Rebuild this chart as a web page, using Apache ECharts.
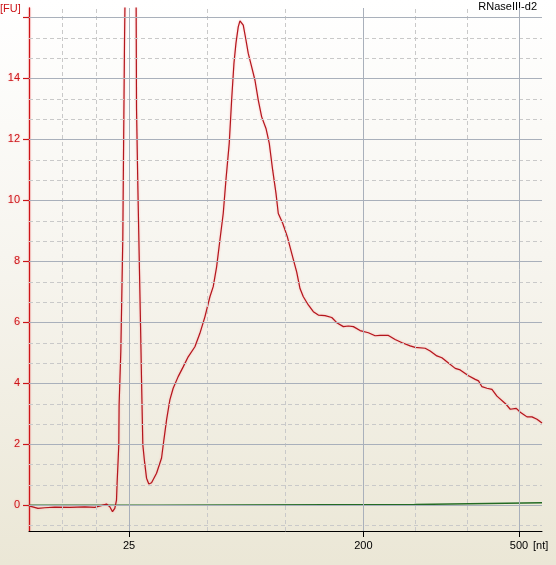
<!DOCTYPE html>
<html>
<head>
<meta charset="utf-8">
<script src="https://cdn.jsdelivr.net/npm/echarts@6/dist/echarts.min.js"></script>
<style>
html,body{margin:0;padding:0;}
#chart{width:556px;height:565px;}
</style>
</head>
<body>
<div id="chart"></div>
<script>
// x values: migration position (arbitrary time units); y values: fluorescence [FU]
const sampleTime = [30.0,30.9,31.57,32.57,34.07,35.57,36.57,37.74,38.07,38.34,38.57,38.74,38.8,38.97,39.0,39.17,39.27,39.37,39.44,39.54,39.6,40.15,40.7,40.74,40.87,41.0,41.14,41.24,41.37,41.54,41.74,41.97,42.24,42.74,43.24,43.47,43.74,44.07,44.4,44.9,45.4,45.9,46.57,47.07,47.57,48.07,48.4,48.74,49.07,49.4,49.67,50.0,50.24,50.47,50.67,50.9,51.07,51.4,51.67,51.9,52.24,52.57,52.9,53.24,53.67,54.0,54.34,54.67,54.9,55.34,55.8,56.24,56.74,57.07,57.4,57.9,58.4,58.9,59.57,60.24,60.74,61.4,61.9,62.4,63.07,63.9,64.57,65.07,65.9,66.57,67.27,68.07,68.57,69.57,70.07,70.74,71.24,71.74,72.57,73.07,73.9,74.57,74.9,75.24,75.74,76.24,76.74,77.57,78.07,78.67,79.07,79.4,79.74,80.24,80.74,81.24];
const sampleFU = [-0.02,-0.1,-0.08,-0.06,-0.07,-0.05,-0.07,0.04,-0.05,-0.21,-0.1,0.17,0.73,1.98,3.3,5.04,6.9,8.76,11.5,15.2,16.8,36,16.5,13.0,10.5,8.27,5.92,4.1,1.98,1.43,0.89,0.70,0.74,1.05,1.55,2.14,2.8,3.46,3.84,4.22,4.54,4.87,5.2,5.64,6.18,6.84,7.17,7.82,8.7,9.57,10.67,11.87,13.29,14.49,15.15,15.69,15.89,15.75,15.26,14.82,14.38,13.94,13.29,12.74,12.36,11.87,10.99,10.23,9.57,9.25,8.81,8.26,7.65,7.11,6.84,6.57,6.35,6.24,6.22,6.16,5.99,5.86,5.88,5.86,5.73,5.66,5.56,5.57,5.57,5.44,5.33,5.23,5.18,5.15,5.06,4.9,4.84,4.71,4.49,4.44,4.25,4.13,4.08,3.89,3.84,3.8,3.58,3.34,3.15,3.18,3.05,2.98,2.9,2.9,2.82,2.7];
const baselineTime = [30.0,42.85,42.9,68.5,68.52,81.24];
const baselineFU = [0.0,0.0,0.03,0.03,0.08,0.08];
const sizeTickPos = [40, 63.4, 78.94];
const sizeTickLabels = ['25', '200', '500'];
const minorXGrid = [33.33, 36.67, 47.8, 55.6, 68.57, 73.73];
const yMajor = [0, 2, 4, 6, 8, 10, 12, 14, 16];
const yLabels = [0, 2, 4, 6, 8, 10, 12, 14];
const yMinor = [-0.667,0.667,1.333,2.667,3.333,4.667,5.333,6.667,7.333,8.667,9.333,10.667,11.333,12.667,13.333,14.667,15.333];
const title = 'RNaseIII-d2';

const X_MIN = 30, X_MAX = 81.24, Y_MIN = -0.843, Y_MAX = 16.31;
const RED = '#b3161d';
const AXIS_RED = '#cc1418';
const font = 'Liberation Sans, Arial, sans-serif';

const chart = echarts.init(document.getElementById('chart'));
const zip = (a, b) => a.map((v, i) => [v, b[i]]);
const labelMap = {};
sizeTickPos.forEach((p, i) => labelMap[p] = sizeTickLabels[i]);

const gridLines = [];
yMinor.forEach(v => gridLines.push({yAxis: v, lineStyle: {color: '#c9c9c9', type: [4, 3], width: 1}}));
minorXGrid.forEach(v => gridLines.push({xAxis: v, lineStyle: {color: '#c9c9c9', type: [4, 3], width: 1}}));
yMajor.forEach(v => gridLines.push({yAxis: v, lineStyle: {color: '#a9b0bb', type: 'solid', width: 1}}));
sizeTickPos.forEach(v => gridLines.push({xAxis: v, lineStyle: {color: '#a9b0bb', type: 'solid', width: 1}}));

chart.setOption({
  animation: false,
  backgroundColor: {type: 'linear', x: 0, y: 0, x2: 0, y2: 1,
    colorStops: [{offset: 0, color: '#ffffff'}, {offset: 0.45, color: '#f7f5ef'}, {offset: 1, color: '#ebe7d6'}]},
  grid: {left: 29, top: 8, right: 14, bottom: 34},
  graphic: [
    {type: 'text', right: 19, top: 1,
      style: {text: title, font: '11px ' + font, fill: '#000'}},
    {type: 'text', left: 0, top: 3,
      style: {text: '[FU]', font: '11px ' + font, fill: AXIS_RED}},
    {type: 'text', left: 533, top: 540,
      style: {text: '[nt]', font: '11px ' + font, fill: '#000'}}
  ],
  xAxis: {
    type: 'value', min: X_MIN, max: X_MAX,
    splitLine: {show: false},
    axisLine: {show: true, onZero: false, lineStyle: {color: '#000', width: 1}},
    axisTick: {show: true, customValues: sizeTickPos, length: 6, lineStyle: {color: '#000'}},
    axisLabel: {show: true, customValues: sizeTickPos, margin: 9,
      formatter: v => labelMap[v] || '', color: '#000', fontSize: 11, fontFamily: font}
  },
  yAxis: {
    type: 'value', min: Y_MIN, max: Y_MAX,
    splitLine: {show: false},
    axisLine: {show: true, onZero: false, lineStyle: {color: AXIS_RED, width: 1.3, shadowColor: 'rgba(255,120,120,0.6)', shadowBlur: 2}},
    axisTick: {show: true, customValues: yMajor, length: 6, lineStyle: {color: AXIS_RED, width: 1.2}},
    axisLabel: {show: true, customValues: yLabels, margin: 9, color: AXIS_RED, fontSize: 11, fontFamily: font,
      textShadowColor: 'rgba(255,150,150,0.6)', textShadowBlur: 2}
  },
  series: [
    {type: 'line', data: [], silent: true,
      markLine: {silent: true, symbol: 'none', label: {show: false}, animation: false, data: gridLines}},
    {type: 'line', data: zip(baselineTime, baselineFU), showSymbol: false, clip: true,
      lineStyle: {color: '#236b23', width: 1.5}},
    {type: 'line', data: zip(sampleTime, sampleFU), showSymbol: false, clip: true,
      lineStyle: {color: RED, width: 1.2, shadowColor: 'rgba(255,140,140,0.7)', shadowBlur: 2}}
  ]
});
</script>
</body>
</html>
